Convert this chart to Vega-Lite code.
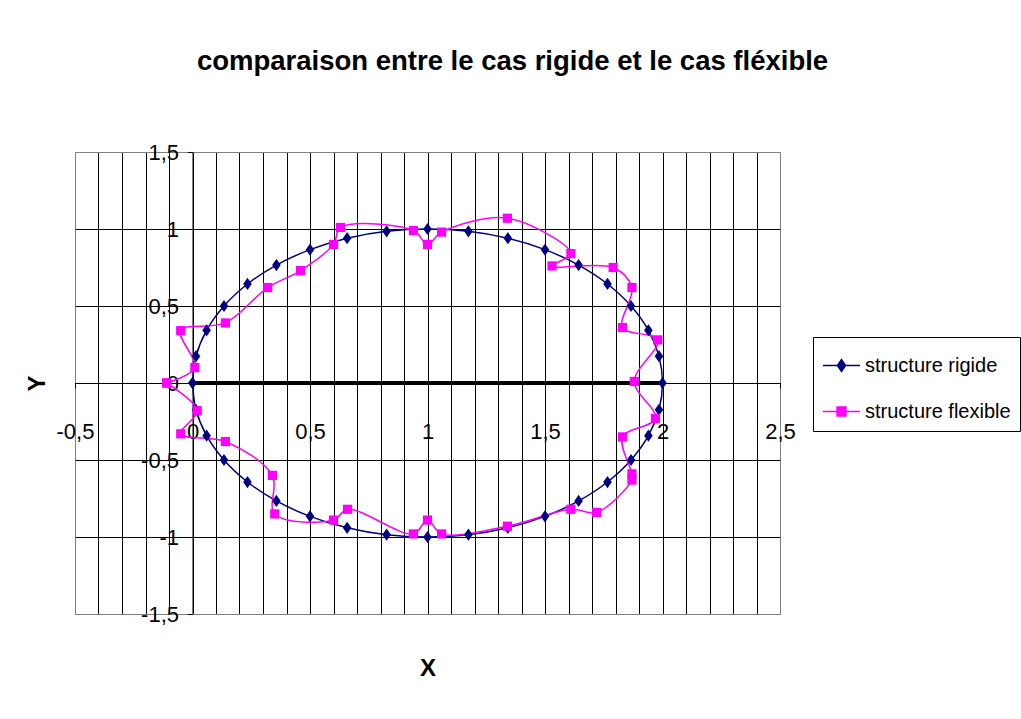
{
  "$schema": "https://vega.github.io/schema/vega-lite/v6.json",
  "width": 705,
  "height": 462,
  "autosize": {"type": "none"},
  "padding": {"left": 75, "top": 152, "right": 241, "bottom": 105},
  "background": "white",
  "title": {
    "text": "comparaison entre le cas rigide et le cas fléxible",
    "font": "Liberation Sans, Arial, sans-serif",
    "fontWeight": "bold",
    "fontSize": 27.5,
    "color": "black",
    "anchor": "middle",
    "dx": 85,
    "offset": 66
  },
  "config": {
    "view": {"stroke": "#808080", "strokeWidth": 1},
    "font": "Liberation Sans, Arial, sans-serif"
  },
  "datasets": {
    "pts": [
      {"series": "structure rigide", "order": 0, "x": 0.0, "y": 0.0},
      {"series": "structure rigide", "order": 1, "x": 0.015, "y": 0.174},
      {"series": "structure rigide", "order": 2, "x": 0.06, "y": 0.342},
      {"series": "structure rigide", "order": 3, "x": 0.134, "y": 0.5},
      {"series": "structure rigide", "order": 4, "x": 0.234, "y": 0.643},
      {"series": "structure rigide", "order": 5, "x": 0.357, "y": 0.766},
      {"series": "structure rigide", "order": 6, "x": 0.5, "y": 0.866},
      {"series": "structure rigide", "order": 7, "x": 0.658, "y": 0.94},
      {"series": "structure rigide", "order": 8, "x": 0.826, "y": 0.985},
      {"series": "structure rigide", "order": 9, "x": 1.0, "y": 1.0},
      {"series": "structure rigide", "order": 10, "x": 1.174, "y": 0.985},
      {"series": "structure rigide", "order": 11, "x": 1.342, "y": 0.94},
      {"series": "structure rigide", "order": 12, "x": 1.5, "y": 0.866},
      {"series": "structure rigide", "order": 13, "x": 1.643, "y": 0.766},
      {"series": "structure rigide", "order": 14, "x": 1.766, "y": 0.643},
      {"series": "structure rigide", "order": 15, "x": 1.866, "y": 0.5},
      {"series": "structure rigide", "order": 16, "x": 1.94, "y": 0.342},
      {"series": "structure rigide", "order": 17, "x": 1.985, "y": 0.174},
      {"series": "structure rigide", "order": 18, "x": 2.0, "y": 0.0},
      {"series": "structure rigide", "order": 19, "x": 1.985, "y": -0.174},
      {"series": "structure rigide", "order": 20, "x": 1.94, "y": -0.342},
      {"series": "structure rigide", "order": 21, "x": 1.866, "y": -0.5},
      {"series": "structure rigide", "order": 22, "x": 1.766, "y": -0.643},
      {"series": "structure rigide", "order": 23, "x": 1.643, "y": -0.766},
      {"series": "structure rigide", "order": 24, "x": 1.5, "y": -0.866},
      {"series": "structure rigide", "order": 25, "x": 1.342, "y": -0.94},
      {"series": "structure rigide", "order": 26, "x": 1.174, "y": -0.985},
      {"series": "structure rigide", "order": 27, "x": 1.0, "y": -1.0},
      {"series": "structure rigide", "order": 28, "x": 0.826, "y": -0.985},
      {"series": "structure rigide", "order": 29, "x": 0.658, "y": -0.94},
      {"series": "structure rigide", "order": 30, "x": 0.5, "y": -0.866},
      {"series": "structure rigide", "order": 31, "x": 0.357, "y": -0.766},
      {"series": "structure rigide", "order": 32, "x": 0.234, "y": -0.643},
      {"series": "structure rigide", "order": 33, "x": 0.134, "y": -0.5},
      {"series": "structure rigide", "order": 34, "x": 0.06, "y": -0.342},
      {"series": "structure rigide", "order": 35, "x": 0.015, "y": -0.174},
      {"series": "structure rigide", "order": 36, "x": 0.0, "y": 0.0},
      {"series": "structure flexible", "order": 0, "x": -0.11, "y": 0.0},
      {"series": "structure flexible", "order": 1, "x": 0.01, "y": 0.1},
      {"series": "structure flexible", "order": 2, "x": -0.05, "y": 0.34},
      {"series": "structure flexible", "order": 3, "x": 0.14, "y": 0.39},
      {"series": "structure flexible", "order": 4, "x": 0.32, "y": 0.62},
      {"series": "structure flexible", "order": 5, "x": 0.46, "y": 0.73},
      {"series": "structure flexible", "order": 6, "x": 0.6, "y": 0.9},
      {"series": "structure flexible", "order": 7, "x": 0.63, "y": 1.01},
      {"series": "structure flexible", "order": 8, "x": 0.94, "y": 0.99},
      {"series": "structure flexible", "order": 9, "x": 1.0, "y": 0.9},
      {"series": "structure flexible", "order": 10, "x": 1.06, "y": 0.98},
      {"series": "structure flexible", "order": 11, "x": 1.34, "y": 1.07},
      {"series": "structure flexible", "order": 12, "x": 1.61, "y": 0.84},
      {"series": "structure flexible", "order": 13, "x": 1.53, "y": 0.76},
      {"series": "structure flexible", "order": 14, "x": 1.79, "y": 0.75},
      {"series": "structure flexible", "order": 15, "x": 1.87, "y": 0.62},
      {"series": "structure flexible", "order": 16, "x": 1.83, "y": 0.36},
      {"series": "structure flexible", "order": 17, "x": 1.98, "y": 0.28},
      {"series": "structure flexible", "order": 18, "x": 1.88, "y": 0.01},
      {"series": "structure flexible", "order": 19, "x": 1.97, "y": -0.23},
      {"series": "structure flexible", "order": 20, "x": 1.83, "y": -0.35},
      {"series": "structure flexible", "order": 21, "x": 1.87, "y": -0.59},
      {"series": "structure flexible", "order": 22, "x": 1.87, "y": -0.63},
      {"series": "structure flexible", "order": 23, "x": 1.72, "y": -0.84},
      {"series": "structure flexible", "order": 24, "x": 1.61, "y": -0.82},
      {"series": "structure flexible", "order": 25, "x": 1.34, "y": -0.93},
      {"series": "structure flexible", "order": 26, "x": 1.06, "y": -0.98},
      {"series": "structure flexible", "order": 27, "x": 1.0, "y": -0.89},
      {"series": "structure flexible", "order": 28, "x": 0.94, "y": -0.98},
      {"series": "structure flexible", "order": 29, "x": 0.66, "y": -0.82},
      {"series": "structure flexible", "order": 30, "x": 0.6, "y": -0.89},
      {"series": "structure flexible", "order": 31, "x": 0.35, "y": -0.85},
      {"series": "structure flexible", "order": 32, "x": 0.34, "y": -0.6},
      {"series": "structure flexible", "order": 33, "x": 0.14, "y": -0.38},
      {"series": "structure flexible", "order": 34, "x": -0.05, "y": -0.33},
      {"series": "structure flexible", "order": 35, "x": 0.02, "y": -0.18},
      {"series": "structure flexible", "order": 36, "x": -0.11, "y": 0.0}
    ],
    "plate": [
      {"x": 0.0, "y": 0.0},
      {"x": 2.0, "y": 0.0}
    ]
  },
  "encoding": {
    "x": {
      "field": "x",
      "type": "quantitative",
      "scale": {"domain": [-0.5, 2.5], "nice": false, "zero": false},
      "axis": {
        "orient": "bottom",
        "offset": -231,
        "values": [-0.5, -0.4, -0.3, -0.2, -0.1, 0, 0.1, 0.2, 0.3, 0.4, 0.5, 0.6, 0.7, 0.8, 0.9, 1, 1.1, 1.2, 1.3, 1.4, 1.5, 1.6, 1.7, 1.8, 1.9, 2, 2.1, 2.2, 2.3, 2.4, 2.5],
        "labelExpr": "abs(datum.value*2 - round(datum.value*2)) < 0.001 ? (datum.value < 0 ? '-' : '') + replace(toString(abs(round(datum.value*10)/10)), '.', ',') : ''",
        "labelFontSize": 22,
        "labelColor": "black",
        "labelBaseline": "middle",
        "labelPadding": 43,
        "labelFlush": false,
        "labelOverlap": false,
        "labelBound": false,
        "tickSize": 5,
        "tickColor": "black",
        "domainColor": "black",
        "domainWidth": 1,
        "grid": true,
        "gridColor": {"condition": {"test": "datum.value <= -0.49 || datum.value >= 2.49", "value": "#808080"}, "value": "black"},
        "gridOpacity": 1,
        "gridWidth": 1,
        "title": "X",
        "titleFontSize": 24,
        "titleFontWeight": "bold",
        "titleColor": "black",
        "titleX": 352.5,
        "titleY": 285,
        "titleAlign": "center",
        "titleBaseline": "middle"
      }
    },
    "y": {
      "field": "y",
      "type": "quantitative",
      "scale": {"domain": [-1.5, 1.5], "nice": false, "zero": false},
      "axis": {
        "orient": "left",
        "offset": -117.5,
        "values": [-1.5, -1, -0.5, 0, 0.5, 1, 1.5],
        "labelExpr": "(datum.value < 0 ? '-' : '') + replace(toString(abs(datum.value)), '.', ',')",
        "labelFontSize": 22,
        "labelColor": "black",
        "labelPadding": 9,
        "labelFlush": false,
        "labelOverlap": false,
        "labelBound": false,
        "tickSize": 5,
        "tickColor": "black",
        "domainColor": "black",
        "domainWidth": 1,
        "grid": true,
        "gridColor": {"condition": {"test": "abs(datum.value) >= 1.49", "value": "#808080"}, "value": "black"},
        "gridOpacity": 1,
        "gridWidth": 1,
        "title": "Y",
        "titleFontSize": 24,
        "titleFontWeight": "bold",
        "titleColor": "black",
        "titleAngle": -90,
        "titleX": -155,
        "titleY": 231,
        "titleAlign": "center",
        "titleBaseline": "middle"
      }
    },
    "color": {
      "field": "series",
      "type": "nominal",
      "scale": {"domain": ["structure rigide", "structure flexible"], "range": ["#000080", "#FF00FF"]},
      "legend": {
        "orient": "none",
        "legendX": 738,
        "legendY": 185,
        "title": null,
        "symbolSize": 1369,
        "labelFontSize": 20,
        "labelColor": "black",
        "labelOffset": 4,
        "labelLimit": 0,
        "rowPadding": 16,
        "padding": 9,
        "strokeColor": "black",
        "fillColor": "white",
        "encode": {
          "symbols": {
            "update": {
              "shape": {"signal": "datum.value == 'structure rigide' ? 'M-1,0H1M0,-0.32L0.22,0L0,0.32L-0.22,0Z' : 'M-1,0H1M-0.24,-0.24H0.24V0.24H-0.24Z'"},
              "fill": {"signal": "datum.value == 'structure rigide' ? '#000080' : '#FF00FF'"},
              "stroke": {"signal": "datum.value == 'structure rigide' ? '#000080' : '#FF00FF'"},
              "strokeWidth": {"value": 1.5},
              "opacity": {"value": 1}
            }
          }
        }
      }
    }
  },
  "layer": [
    {
      "data": {"name": "plate"},
      "mark": {"type": "line", "strokeWidth": 4},
      "encoding": {"color": {"value": "black"}}
    },
    {
      "data": {"name": "pts"},
      "mark": {"type": "line", "interpolate": "catmull-rom", "strokeWidth": 1.5},
      "encoding": {"order": {"field": "order", "type": "quantitative"}}
    },
    {
      "data": {"name": "pts"},
      "transform": [{"filter": "datum.series == 'structure rigide'"}],
      "mark": {"type": "point", "filled": true, "opacity": 1, "shape": "M0,-1L0.7,0L0,1L-0.7,0Z", "size": 150}
    },
    {
      "data": {"name": "pts"},
      "transform": [{"filter": "datum.series == 'structure flexible'"}],
      "mark": {"type": "point", "filled": true, "opacity": 1, "shape": "square", "size": 85}
    }
  ]
}
